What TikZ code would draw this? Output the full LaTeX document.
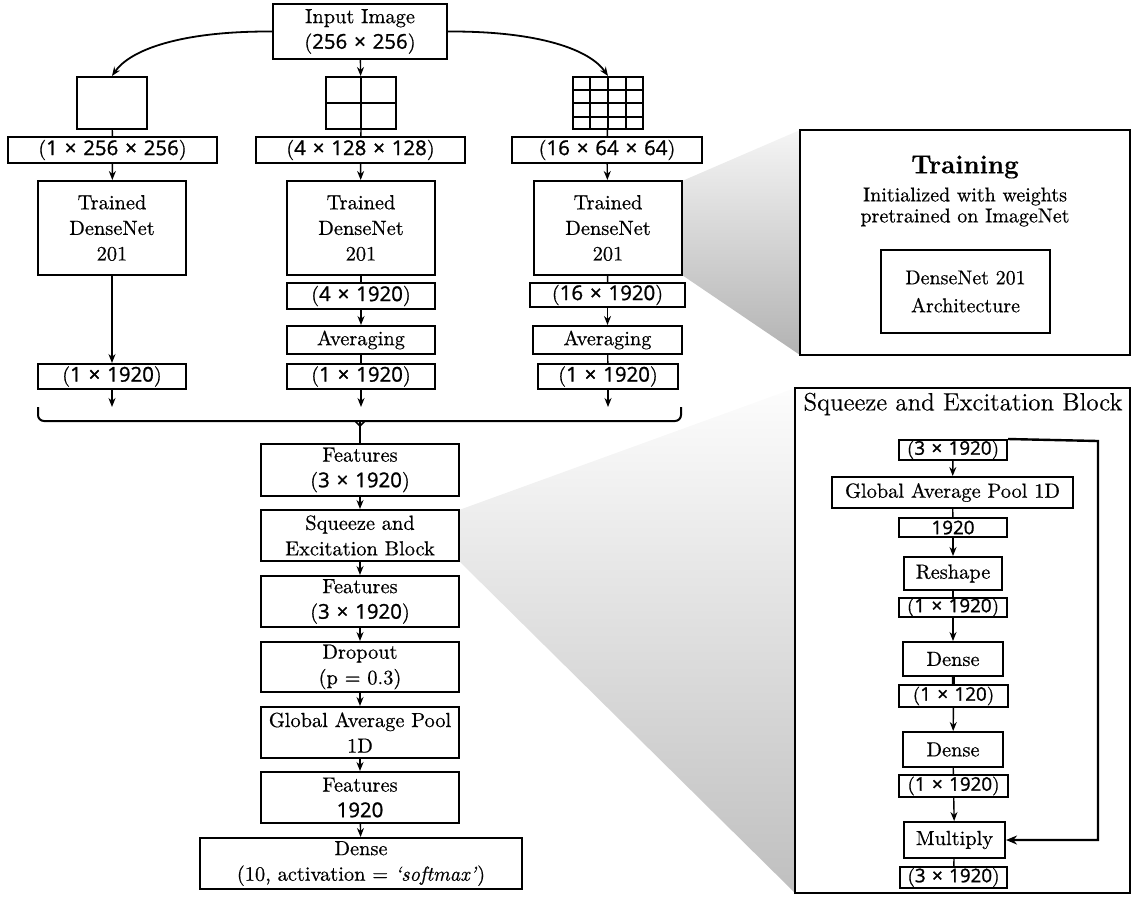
\documentclass[tikz,border=0pt]{standalone}
\usepackage{fontspec}
\setmainfont{Latin Modern Roman}[FakeBold=0.5]
\usetikzlibrary{arrows.meta,calc,shadows}
\newfontfamily\numfont{Open Sans}[FakeBold=1.2, WordSpace=1.3]
\newcommand\dm[1]{({\numfont #1})}
\newcommand\bx[7][]{\node[bbox,minimum width={(#5-#3)*0.5pt},minimum height={(#6-#4)*0.5pt},#1] (#2) at ({(#3+#5)/2},{(#4+#6)/2}) {#7};}
\tikzset{
  bbox/.style={draw, line width=1pt, fill=white, inner sep=0pt, align=center,
    font=\fontsize{10.2}{12.8}\selectfont,
    drop shadow={shadow xshift=0.6pt, shadow yshift=-0.6pt, opacity=0.25, fill=black}},
  sml/.style={font=\fontsize{9.4}{11}\selectfont},
  con/.style={line width=0.7pt},
  arr/.style={con, -{Stealth[length=4.5pt,width=3.5pt]}},
}
\begin{document}
\begin{tikzpicture}[x=0.5pt,y=-0.5pt]
\useasboundingbox (0,0) rectangle (1133,896);
% shades
\shade[top color=gray!8, bottom color=gray!60] (682,181) -- (800,130) -- (800,355) -- (682,275) -- cycle;
\shade[top color=gray!2, bottom color=gray!50] (459,510) -- (795,388) -- (795,893) -- (459,561) -- cycle;

% top
\bx{in}{273}{4}{447}{59}{Input Image\\\dm{256 × 256}}
\bx{sqa}{77}{77}{147}{129}{}
\bx{sqb}{326}{77}{396}{129}{}
\bx{sqc}{573}{77}{643}{129}{}
\draw[line width=1pt] (sqb.north) -- (sqb.south) (sqb.west) -- (sqb.east);
\foreach \t in {0.25,0.5,0.75}{
  \draw[line width=1pt] ($(sqc.north west)!\t!(sqc.north east)$) -- ($(sqc.south west)!\t!(sqc.south east)$);
  \draw[line width=1pt] ($(sqc.north west)!\t!(sqc.south west)$) -- ($(sqc.north east)!\t!(sqc.south east)$);
}
\bx{la}{8}{137}{217}{163}{\dm{1 × 256 × 256}}
\bx{lb}{256}{137}{465}{163}{\dm{4 × 128 × 128}}
\bx{lc}{512}{137}{702}{163}{\dm{16 × 64 × 64}}
\bx{ta}{38}{181}{186}{275}{Trained\\DenseNet\\201}
\bx{tb}{287}{181}{435}{275}{Trained\\DenseNet\\201}
\bx{tc}{534}{181}{682}{275}{Trained\\DenseNet\\201}
\bx{fb}{287}{283}{435}{309}{\dm{4 × 1920}}
\bx{fc}{530}{283}{685}{307}{\dm{16 × 1920}}
\bx{ab}{287}{326}{435}{354}{Averaging}
\bx{ac}{533}{326}{682}{354}{Averaging}
\bx{oa}{38}{364}{186}{389}{\dm{1 × 1920}}
\bx{ob}{287}{364}{435}{389}{\dm{1 × 1920}}
\bx{oc}{538}{364}{678}{389}{\dm{1 × 1920}}

\draw[line width=0.9pt, -{Stealth[length=4.5pt,width=3.5pt]}] (in.west) .. controls (180,31) and (130,50) .. (sqa.north);
\draw[line width=0.9pt, -{Stealth[length=4.5pt,width=3.5pt]}] (in.east) .. controls (540,31) and (590,50) .. (sqc.north);
\draw[arr] (in) -- (sqb);
\draw[con] (sqa) -- (la); \draw[con] (sqb.south) -- (lb); \draw[con] (sqc) -- (lc);
\draw[arr] (la) -- (ta); \draw[arr] (lb) -- (tb); \draw[arr] (lc) -- (tc);
\draw[arr] (ta) -- (oa);
\draw[con] (tb) -- (fb); \draw[arr] (fb) -- (ab); \draw[con] (ab) -- (ob);
\draw[con] (tc) -- (fc); \draw[arr] (fc) -- (ac); \draw[con] (ac) -- (oc);

% brace
\coordinate (bl) at (38,407); \coordinate (br) at (681,407); \coordinate (bt) at (360,421);
\coordinate (ea) at (112,407); \coordinate (eb) at (361,407); \coordinate (ec) at (608,407);
\draw[arr] (oa) -- (ea); \draw[arr] (ob) -- (eb); \draw[arr] (oc) -- (ec);
\draw[line width=1pt, rounded corners=3pt] (bl) -- (38,421) -- (681,421) -- (br);
\draw[line width=0.8pt] (355,421) -- (360,426) -- (365,421);

% center column
\bx{fa}{261}{444}{459}{496}{Features\\\dm{3 × 1920}}
\bx{se}{261}{510}{459}{561}{Squeeze and\\Excitation Block}
\bx{fe}{261}{576}{459}{627}{Features\\\dm{3 × 1920}}
\bx{dr}{261}{642}{459}{692}{Dropout\\(p = 0.3)}
\bx{gp}{261}{707}{459}{758}{Global Average Pool\\1D}
\bx{ff}{261}{772}{459}{823}{Features\\{\numfont 1920}}
\bx{de}{200}{838}{522}{889}{Dense\\(10, activation = \textit{‘softmax’})}
\draw[con] (bt) -- (fa);
\draw[arr] (fa) -- (se); \draw[arr] (se) -- (fe); \draw[arr] (fe) -- (dr);
\draw[arr] (dr) -- (gp); \draw[arr] (gp) -- (ff); \draw[arr] (ff) -- (de);

% training box
\bx[line width=1.2pt]{train}{800}{130}{1130}{355}{}
\node[font=\fontsize{13}{15}\selectfont\bfseries] (trt) at (965,167) {Training};
\node[font=\fontsize{10}{10.5}\selectfont, align=center] (trs) at (965,207) {Initialized with weights\\pretrained on ImageNet};
\bx[font=\fontsize{10}{14}\selectfont]{arch}{881}{250}{1050}{333}{DenseNet 201\\Architecture}

% SE box
\bx[line width=1.2pt]{sebox}{795}{388}{1130}{893}{}
\node[font=\fontsize{12.5}{15}\selectfont] (set) at (963,404) {Squeeze and Excitation Block};
\bx[sml]{sa}{899}{440}{1007}{460}{\dm{3 × 1920}}
\bx{sb}{832}{477}{1073}{508}{Global Average Pool 1D}
\bx[sml]{sc}{899}{518}{1007}{537}{{\numfont 1920}}
\bx{sd}{904}{557}{1002}{590}{Reshape}
\bx[sml]{sf}{899}{598}{1007}{617}{\dm{1 × 1920}}
\bx{sg}{903}{642}{1003}{676}{Dense}
\bx[sml]{sh}{899}{685}{1008}{707}{\dm{1 × 120}}
\bx{si}{903}{732}{1003}{767}{Dense}
\bx[sml]{sj}{899}{775}{1008}{797}{\dm{1 × 1920}}
\bx{sk}{904}{822}{1005}{858}{Multiply}
\bx[sml]{sl}{900}{867}{1007}{888}{\dm{3 × 1920}}
\draw[arr] (sa) -- (sb); \draw[con] (sb) -- (sc); \draw[arr] (sc) -- (sd);
\draw[con] (sd) -- (sf); \draw[arr] (sf) -- (sg); \draw[line width=1.5pt] (sg) -- (sh);
\draw[arr] (sh) -- (si); \draw[con] (si) -- (sj); \draw[arr] (sj) -- (sk);
\draw[con] (sk) -- (sl);
\coordinate (ka) at (1098,441); \coordinate (kb) at (1098,840);
\draw[line width=1.2pt, -{Stealth[length=5.5pt,width=4.5pt]}] (sa.north east) -- (ka) -- (kb) -- (sk.east);
\end{tikzpicture}
\end{document}
